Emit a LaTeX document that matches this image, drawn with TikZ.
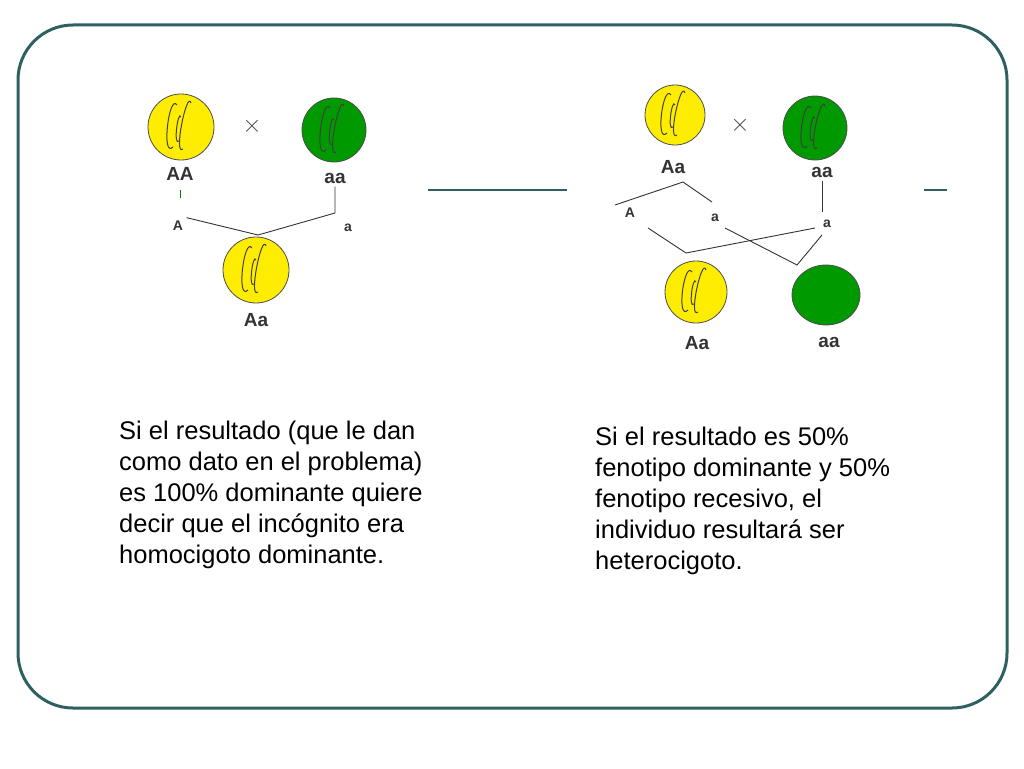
\documentclass[tikz,border=0pt]{standalone}
\usepackage{fontspec}
\usetikzlibrary{shapes.geometric}
\setmainfont{Liberation Sans}
\begin{document}
\begin{tikzpicture}[x=1pt,y=-1pt,
  yel/.style={draw=black!70,fill=yellow!95!orange,line width=0.8pt},
  grn/.style={draw=black!70,fill=green!60!black,line width=0.8pt},
  lbl/.style={font=\fontsize{19}{19}\selectfont\bfseries,text=black!80},
  sm/.style={font=\fontsize{14}{14}\selectfont\bfseries,text=black!80},
  ln/.style={draw=black!80,line width=0.9pt},
  body/.style={font=\fontsize{25.5}{31}\selectfont,align=left,anchor=north west,inner sep=0pt},
  chrom/.style={draw=black!75,line width=1pt}]
\useasboundingbox (0,0) rectangle (1024,768);
\draw[line width=3pt,draw={rgb,255:red,47;green,96;blue,96},rounded corners=55pt] (18,25) rectangle (1007,708);
% left
\node[yel,circle,minimum size=66pt,inner sep=0pt] (p1) at (181,127) {};
\node[grn,circle,minimum size=64pt,inner sep=0pt] (p2) at (334,130) {};
\node[yel,circle,minimum size=66pt,inner sep=0pt] (c1) at (256,270) {};
\foreach \c in {p1,p2,c1}{
 \draw[chrom] ([xshift=-8pt,yshift=-20pt]\c.center) .. controls +(-12,12) and +(-8,-12) .. ([xshift=-4pt,yshift=22pt]\c.center);
 \draw[chrom] ([xshift=2pt,yshift=-22pt]\c.center) .. controls +(-10,8) and +(-4,-14) .. ([xshift=10pt,yshift=24pt]\c.center);
 \draw[chrom] ([xshift=-2pt,yshift=-14pt]\c.center) .. controls +(-6,6) and +(-3,-8) .. ([xshift=0pt,yshift=10pt]\c.center);}
\node[font=\fontsize{40}{40}\selectfont,text=black!70] (x1) at (252,126) {$\times$};
\node[lbl] (l1) at (180,174) {AA};
\node[lbl] (l2) at (335,178) {aa};
\node[sm] (g1) at (178,226) {A};
\node[sm] (g2) at (348,228) {a};
\node[lbl] (l3) at (256,320) {Aa};
\coordinate (j1) at (258,235);
\draw[green!50!black,line width=0.8pt] (180,190) -- (180,198);
\draw[ln] (g1.north east) -- (j1) -- (335,213) -- (l2.south);
\draw[line width=2pt,draw={rgb,255:red,47;green,96;blue,96}] (428,190) -- (567,190);
\draw[line width=2pt,draw={rgb,255:red,47;green,96;blue,96}] (924,190) -- (947,190);
% right
\node[yel,circle,minimum size=60pt,inner sep=0pt] (q1) at (675,115) {};
\node[grn,circle,minimum size=64pt,inner sep=0pt] (q2) at (815,128) {};
\node[yel,circle,minimum size=62pt,inner sep=0pt] (d1) at (696,292) {};
\node[grn,ellipse,minimum width=68pt,minimum height=60pt,inner sep=0pt] (d2) at (826,295) {};
\foreach \c in {q1,q2,d1}{
 \draw[chrom] ([xshift=-8pt,yshift=-18pt]\c.center) .. controls +(-12,12) and +(-8,-12) .. ([xshift=-4pt,yshift=20pt]\c.center);
 \draw[chrom] ([xshift=2pt,yshift=-20pt]\c.center) .. controls +(-10,8) and +(-4,-14) .. ([xshift=10pt,yshift=22pt]\c.center);
 \draw[chrom] ([xshift=-2pt,yshift=-12pt]\c.center) .. controls +(-6,6) and +(-3,-8) .. ([xshift=0pt,yshift=10pt]\c.center);}
\node[font=\fontsize{40}{40}\selectfont,text=black!70] (x2) at (740,125) {$\times$};
\node[lbl] (m1) at (673,167) {Aa};
\node[lbl] (m2) at (822,172) {aa};
\node[sm] (h1) at (630,213) {A};
\node[sm] (h2) at (715,218) {a};
\node[sm] (h3) at (827,224) {a};
\node[lbl] (m3) at (697,343) {Aa};
\node[lbl] (m4) at (829,342) {aa};
\coordinate (k1) at (683,182);
\coordinate (k2) at (686,253);
\coordinate (k3) at (797,265);
\draw[ln] (615,205) -- (k1) -- (712,202);
\draw[ln] (m2.south) -- (822,212);
\draw[ln] (648,228) -- (k2) -- (815,228);
\draw[ln] (725,228) -- (k3) -- (822,235);
% texts
\node[body] (t1) at (119,421) {Si el resultado (que le dan\\como dato en el problema)\\es 100\% dominante quiere\\decir que el incógnito era\\homocigoto dominante.};
\node[body] (t2) at (595,427) {Si el resultado es 50\%\\fenotipo dominante y 50\%\\fenotipo recesivo, el\\individuo resultará ser\\heterocigoto.};
\end{tikzpicture}
\end{document}
